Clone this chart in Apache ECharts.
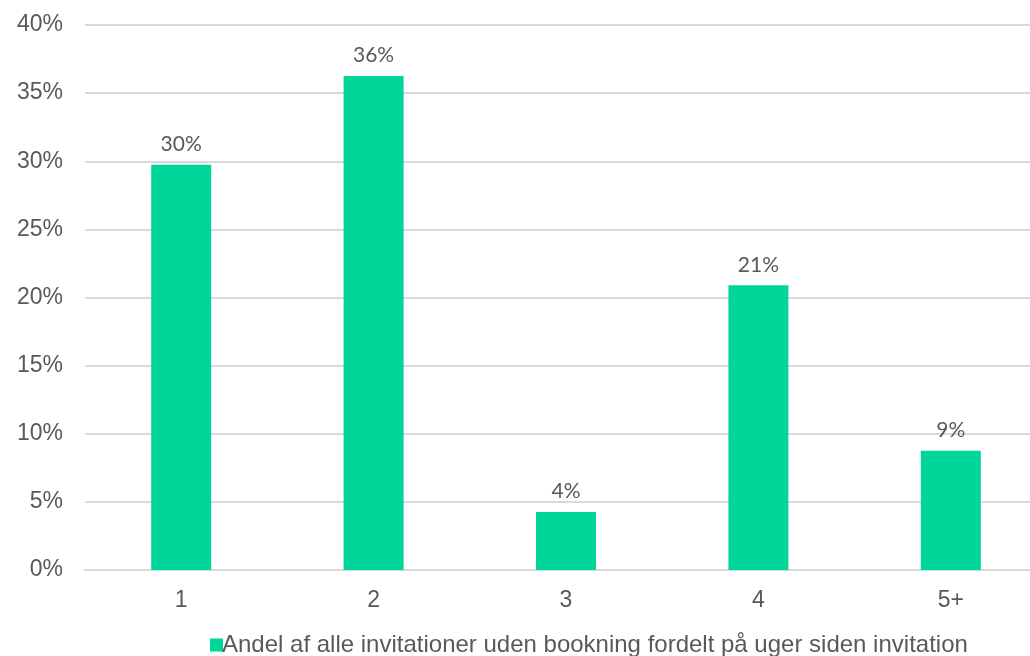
<!DOCTYPE html>
<html><head><meta charset="utf-8">
<script src="https://cdn.jsdelivr.net/npm/echarts@6/dist/echarts.min.js"></script>
<style>html,body{margin:0;padding:0;background:#fff}#c{width:1030px;height:656px}</style>
</head><body><div id="c"></div>
<script>
const categories = ['1','2','3','4','5+'];
const values = [29.75, 36.25, 4.25, 20.9, 8.75];
const seriesName = 'Andel af alle invitationer uden bookning fordelt på uger siden invitation';

const chart = echarts.init(document.getElementById('c'));
chart.setOption({
  animation: false,
  grid: {left: 85, width: 962, top: 25, bottom: 86, containLabel: false, outerBoundsMode: 'none'},
  legend: {
    left: 205, top: 628, itemWidth: 13, itemHeight: 13, itemGap: 10,
    icon: 'rect',
    textStyle: {fontFamily: 'Liberation Sans', fontSize: 24, color: '#595959', padding: [0,0,0,-6]},
    data: [seriesName]
  },
  xAxis: {
    type: 'category', data: categories,
    axisLine: {lineStyle: {color: '#d9d9d9', width: 2}},
    axisTick: {show: false},
    axisLabel: {fontFamily: 'Liberation Sans', fontSize: 23, color: '#595959', margin: 19}
  },
  yAxis: {
    type: 'value', min: 0, max: 40, interval: 5,
    axisLine: {show: false}, axisTick: {show: false},
    splitLine: {lineStyle: {color: '#d9d9d9', width: 2}},
    axisLabel: {fontFamily: 'Liberation Sans', fontSize: 23, color: '#595959', margin: 22, formatter: v => v + '%'}
  },
  series: [{
    name: seriesName, type: 'bar', data: values, barWidth: 60,
    itemStyle: {color: '#00d69a'},
    label: {show: true, position: 'top', distance: 10, fontFamily: 'Lato', fontSize: 21, color: '#595959',
      formatter: p => Math.round(p.value) + '%'}
  }]
});
</script></body></html>
